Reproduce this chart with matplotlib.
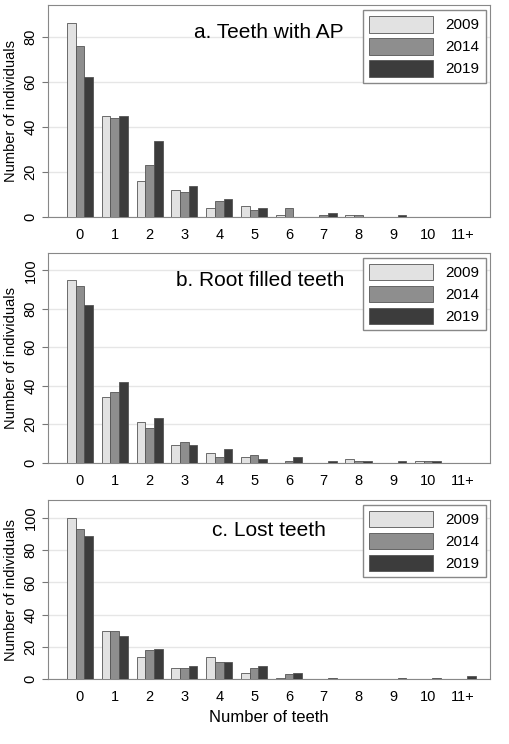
import numpy as np
import matplotlib
matplotlib.use("Agg")
import matplotlib.pyplot as plt

plt.rcParams['font.family'] = ['Liberation Sans', 'DejaVu Sans']

categories = ['0', '1', '2', '3', '4', '5', '6', '7', '8', '9', '10', '11+']
years = ['2009', '2014', '2019']

ap_2009 = [86, 45, 16, 12, 4, 5, 1, 0, 1, 0, 0, 0]
ap_2014 = [76, 44, 23, 11, 7, 3, 4, 1, 1, 0, 0, 0]
ap_2019 = [62, 45, 34, 14, 8, 4, 0, 2, 0, 1, 0, 0]

rf_2009 = [95, 34, 21, 9, 5, 3, 0, 0, 2, 0, 1, 0]
rf_2014 = [92, 37, 18, 11, 3, 4, 1, 0, 1, 0, 1, 0]
rf_2019 = [82, 42, 23, 9, 7, 2, 3, 1, 1, 1, 1, 0]

lost_2009 = [100, 30, 14, 7, 14, 4, 1, 0, 0, 0, 0, 0]
lost_2014 = [93, 30, 18, 7, 11, 7, 3, 0, 0, 0, 0, 0]
lost_2019 = [89, 27, 19, 8, 11, 8, 4, 1, 0, 1, 1, 2]

colors = ['#e2e2e2', '#8e8e8e', '#3c3c3c']

panels = [
    ('a. Teeth with AP', [ap_2009, ap_2014, ap_2019], 94, [0, 20, 40, 60, 80],
     [0.094, 0.708, 0.867, 0.285], (0.5, 0.87)),
    ('b. Root filled teeth', [rf_2009, rf_2014, rf_2019], 109, [0, 20, 40, 60, 80, 100],
     [0.094, 0.378, 0.867, 0.282], (0.48, 0.87)),
    ('c. Lost teeth', [lost_2009, lost_2014, lost_2019], 111, [0, 20, 40, 60, 80, 100],
     [0.094, 0.087, 0.867, 0.241], (0.5, 0.83)),
]

fig = plt.figure(figsize=(5.1, 7.44), dpi=100)
x = np.arange(len(categories))
w = 0.25

for i, (title, series, ymax, yticks, pos, tpos) in enumerate(panels):
    ax = fig.add_axes(pos)
    for j, vals in enumerate(series):
        ax.bar(x + (j - 1) * w, vals, w, color=colors[j], edgecolor='#555555',
               linewidth=0.6, label=years[j], zorder=3)
    ax.set_xlim(-0.92, 11.78)
    ax.set_ylim(0, ymax)
    ax.set_yticks(yticks)
    ax.set_yticklabels([str(t) for t in yticks], rotation=90, va='center', fontsize=10.5)
    ax.set_xticks(x)
    ax.set_xticklabels(categories, fontsize=10.5)
    ax.tick_params(axis='x', length=0, pad=8)
    ax.tick_params(axis='y', length=4, color='#777777')
    ax.yaxis.grid(True, color='#e6e6e6', linewidth=1, zorder=0)
    for s in ax.spines.values():
        s.set_color('#888888')
    ax.set_ylabel('Number of individuals', fontsize=10.5)
    ax.text(tpos[0], tpos[1], title, transform=ax.transAxes, ha='center', va='center', fontsize=15)
    leg = ax.legend(loc='upper right', fontsize=11, handlelength=4.2, handleheight=1.3,
                    fancybox=False, framealpha=1, edgecolor='#888888', borderaxespad=0.3,
                    markerfirst=True, labelspacing=0.35)
    for t in leg.get_texts():
        t.set_ha('left')
    if i == 2:
        ax.set_xlabel('Number of teeth', fontsize=12)

fig.savefig('out.png', dpi=100)
